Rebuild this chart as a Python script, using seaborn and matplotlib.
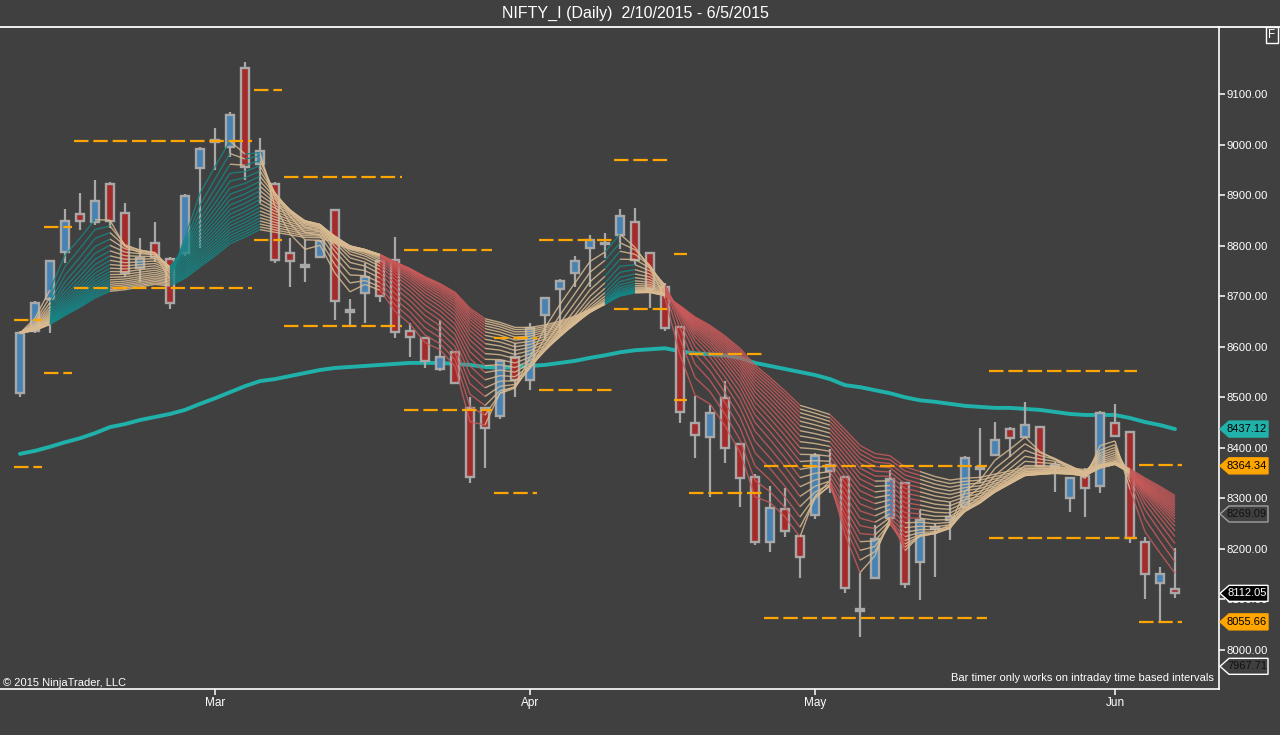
import numpy as np
import pandas as pd
import matplotlib
matplotlib.use("Agg")
import matplotlib.pyplot as plt
import seaborn as sns
from matplotlib.collections import LineCollection
from matplotlib.patches import Polygon
from matplotlib.lines import Line2D

# ---------------- data ----------------
opens = [8508, 8631, 8694, 8787, 8862, 8847, 8922, 8864, 8756, 8805,
         8773, 8785, 8953, 9005, 8995, 9151, 8961, 8922, 8785, 8758,
         8777, 8870, 8669, 8706, 8769, 8771, 8631, 8617, 8556, 8589,
         8479, 8479, 8463, 8580, 8534, 8663, 8714, 8746, 8795, 8803,
         8821, 8847, 8785, 8718, 8639, 8449, 8421, 8498, 8407, 8342,
         8214, 8279, 8226, 8267, 8354, 8342, 8081, 8142, 8261, 8330,
         8174, 8243, 8257, 8283, 8362, 8386, 8437, 8421, 8441, 8366,
         8301, 8344, 8324, 8449, 8431, 8214, 8133, 8121]
highs = [8632, 8690, 8770, 8872, 8904, 8930, 8925, 8884, 8815, 8847,
         8777, 8902, 8995, 9032, 9064, 9163, 9013, 8925, 8815, 8811,
         8812, 8872, 8694, 8765, 8771, 8817, 8647, 8619, 8653, 8591,
         8500, 8481, 8574, 8607, 8647, 8698, 8734, 8779, 8821, 8825,
         8872, 8874, 8787, 8726, 8641, 8502, 8485, 8532, 8409, 8348,
         8324, 8320, 8228, 8390, 8398, 8344, 8152, 8247, 8356, 8332,
         8277, 8251, 8293, 8384, 8439, 8451, 8441, 8491, 8443, 8372,
         8340, 8360, 8473, 8487, 8433, 8224, 8164, 8202]
lows = [8500, 8627, 8627, 8765, 8831, 8841, 8835, 8738, 8728, 8767,
        8675, 8780, 8795, 8949, 8975, 8930, 8884, 8765, 8718, 8728,
        8775, 8653, 8643, 8647, 8688, 8617, 8580, 8558, 8552, 8526,
        8330, 8360, 8457, 8500, 8514, 8613, 8627, 8718, 8718, 8775,
        8793, 8761, 8676, 8631, 8449, 8380, 8303, 8370, 8283, 8208,
        8194, 8224, 8142, 8259, 8311, 8113, 8026, 8140, 8247, 8123,
        8099, 8144, 8218, 8281, 8330, 8384, 8382, 8419, 8362, 8313,
        8273, 8263, 8311, 8423, 8212, 8101, 8057, 8103]
closes = [8627, 8686, 8769, 8849, 8849, 8888, 8849, 8746, 8775, 8777,
          8686, 8898, 8991, 9009, 9058, 8955, 8987, 8771, 8769, 8762,
          8809, 8690, 8672, 8738, 8700, 8629, 8619, 8572, 8580, 8528,
          8342, 8439, 8572, 8534, 8637, 8696, 8730, 8769, 8811, 8806,
          8858, 8771, 8714, 8637, 8471, 8425, 8469, 8400, 8340, 8214,
          8281, 8235, 8184, 8384, 8366, 8123, 8077, 8220, 8338, 8131,
          8257, 8239, 8263, 8380, 8358, 8415, 8419, 8445, 8364, 8362,
          8340, 8320, 8469, 8423, 8222, 8150, 8150, 8112.05]
# long moving average (thick teal line)
long_ma = [8388, 8394, 8402, 8411, 8419, 8429, 8441, 8447, 8455, 8461,
           8467, 8475, 8487, 8498, 8510, 8522, 8532, 8536, 8542, 8548,
           8554, 8558, 8560, 8562, 8564, 8566, 8568, 8568, 8568, 8566,
           8564, 8560, 8558, 8560, 8562, 8564, 8568, 8572, 8578, 8583,
           8589, 8593, 8595, 8597, 8591, 8587, 8585, 8583, 8578, 8568,
           8562, 8556, 8550, 8544, 8536, 8524, 8520, 8514, 8508, 8500,
           8494, 8491, 8487, 8483, 8481, 8479, 8479, 8477, 8475, 8471,
           8467, 8465, 8465, 8465, 8459, 8451, 8445, 8437.12]
# ribbon regime per bar: u = bullish, d = bearish, n = neutral
ribbon_state = ("nnnuuuunnnnuuuuuu" "nnnnnnnn" "ddddddd" "nnnnnnnn" "uu" "nn"
                "ddddddddd" "nn" "dddddd" "nnnnnnnnnnnnnn" "ddd")
ribbon_spans = list(range(3, 23))
# orange levels: bar range and value pairs
level_start = [0, 2, 4, 16, 18, 26, 32, 35, 40, 44, 45, 50, 65, 75]
level_end = [1, 3, 15, 17, 25, 31, 34, 39, 43, 44, 49, 64, 74, 77]
level_high = [8652, 8837, 9007, 9108, 8936, 8791, 8617, 8811, 8969, 8783, 8585, 8364, 8552, 8366.34]
level_low = [8362, 8548, 8716, 8811, 8641, 8475, 8311, 8514, 8674, 8494, 8311, 8063, 8222, 8055.66]
month_pos = [13, 34, 53, 73]
month_labels = ["Mar", "Apr", "May", "Jun"]
price_ticks = [8000, 8100, 8200, 8300, 8400, 8500, 8600, 8700, 8800, 8900, 9000, 9100]
tag_values = [8437.12, 8364.34, 8269.09, 8112.05, 8055.66, 7967.71]
tag_faces = ["#20b2aa", "#ffa500", "#404040", "#000000", "#ffa500", "#404040"]
tag_edges = ["#20b2aa", "#ffa500", "#a0a0a0", "#ffffff", "#ffa500", "#ffffff"]
tag_text = ["#000000", "#000000", "#111111", "#ffffff", "#000000", "#111111"]

# ---------------- style ----------------
BG = "#404040"
sns.set_theme(style="dark", rc={"axes.facecolor": BG, "figure.facecolor": BG,
                                "axes.edgecolor": "white", "text.color": "white",
                                "xtick.color": "white", "ytick.color": "white"})
plt.rcParams["font.family"] = ["Liberation Sans", "DejaVu Sans"]

W, H = 1280, 735
fig = plt.figure(figsize=(12.8, 7.35), dpi=100)
fig.patch.set_facecolor(BG)
ax = fig.add_axes([0, (H - 689) / H, 1219 / W, (689 - 27) / H])
ax.set_facecolor(BG)

n = len(closes)
x = np.arange(n)
ppx = 1100 / 556.0  # price per pixel
ax.set_xlim(-20 / 15.0, (1219 - 20) / 15.0)
ax.set_ylim(8000 - 39 * ppx, 8000 + 623 * ppx)

# long moving average
df_ma = pd.DataFrame({"bar": x, "ma": long_ma})
sns.lineplot(data=df_ma, x="bar", y="ma", ax=ax, color="#20b2aa", lw=2.8, zorder=1.5)

# candles
o = np.array(opens, float); c = np.array(closes, float)
hi = np.array(highs, float); lo = np.array(lows, float)
EDGE = "#a8a8a8"
ax.vlines(x, lo, hi, color=EDGE, lw=1.6, zorder=2)
up = c >= o
fills = np.where(up, "#4682b4", "#a52a2a")
bottoms = np.minimum(o, c)
heights = np.maximum(np.abs(c - o), 3)
ax.bar(x, heights, bottom=bottoms, width=0.5, color=fills, edgecolor=EDGE,
       linewidth=1.7, zorder=3)

# ribbon of moving averages
close_s = pd.Series(closes)
emas = np.array([close_s.ewm(span=s, adjust=False).mean().values for s in ribbon_spans])
TEAL, TAN, RED = "#178585", "#d9bb92", "#c85a5a"
segs, cols = [], []
for k in range(emas.shape[0]):
    for i in range(1, n):
        y0, y1 = emas[k, i - 1], emas[k, i]
        st = ribbon_state[i]
        if st == "u" and y1 >= y0:
            col = TEAL
        elif st == "d" and y1 <= y0:
            col = RED
        else:
            col = TAN
        segs.append([(i - 1, y0), (i, y1)])
        cols.append(col)
lc = LineCollection(segs, colors=cols, linewidths=1.0, alpha=0.85, zorder=4)
ax.add_collection(lc)

# orange levels
for s, e, vh, vl in zip(level_start, level_end, level_high, level_low):
    for v in (vh, vl):
        ax.plot([s - 0.4, e + 0.47], [v, v], color="#ffa500", lw=1.6,
                dashes=(6.5, 2.2), zorder=5, solid_capstyle="butt", dash_capstyle="butt")

# axes styling
for side in ("top", "left"):
    ax.spines[side].set_visible(False)
ax.spines["right"].set_color("white")
ax.spines["bottom"].set_color("white")
ax.spines["right"].set_linewidth(1.2)
ax.spines["bottom"].set_linewidth(1.2)
ax.yaxis.tick_right()
ax.set_yticks(price_ticks)
ax.set_yticklabels([f"{v:.2f}" for v in price_ticks])
ax.tick_params(axis="y", direction="out", length=4.5, width=1.1, pad=1,
               labelsize=8.2, colors="white", right=True, left=False)
ax.set_xticks(month_pos)
ax.set_xticklabels(month_labels)
ax.tick_params(axis="x", direction="out", length=4, width=1.1, pad=2,
               labelsize=8.5, colors="white", bottom=True)
ax.set_xlabel("")
ax.set_ylabel("")
ax.grid(False)

# price tags on the right axis
ytr = ax.get_yaxis_transform()
hh = 8 * ppx
xa, xb, xc = 1220 / 1219, 1229 / 1219, 1268 / 1219
for v, fc, ec, tc in zip(tag_values, tag_faces, tag_edges, tag_text):
    poly = Polygon([(xa, v), (xb, v + hh), (xc, v + hh), (xc, v - hh), (xb, v - hh)],
                   closed=True, transform=ytr, facecolor=fc, edgecolor=ec,
                   lw=1.0, clip_on=False, zorder=10)
    ax.add_patch(poly)
    ax.text(1247 / 1219, v, f"{v:.2f}", transform=ytr, ha="center", va="center",
            fontsize=8.0, color=tc, clip_on=False, zorder=11)

# frame line on top and texts
fig.add_artist(Line2D([0, 1], [1 - 27 / H, 1 - 27 / H], color="white", lw=1.3))
fig.text(635 / W, 1 - 13 / H, "NIFTY_I (Daily)  2/10/2015 - 6/5/2015",
         ha="center", va="center", fontsize=11.5, color="white")
fig.text(1272 / W, 1 - 35 / H, "F", ha="center", va="center", fontsize=8.5, color="white",
         bbox=dict(boxstyle="square,pad=0.2", fc=BG, ec="white", lw=1.0))
fig.text(3 / W, 1 - 683 / H, "\u00a9 2015 NinjaTrader, LLC", ha="left", va="center",
         fontsize=8.0, color="white")
fig.text(1214 / W, 1 - 678 / H, "Bar timer only works on intraday time based intervals",
         ha="right", va="center", fontsize=8.0, color="white")

fig.savefig("out.png", dpi=100, facecolor=BG)
